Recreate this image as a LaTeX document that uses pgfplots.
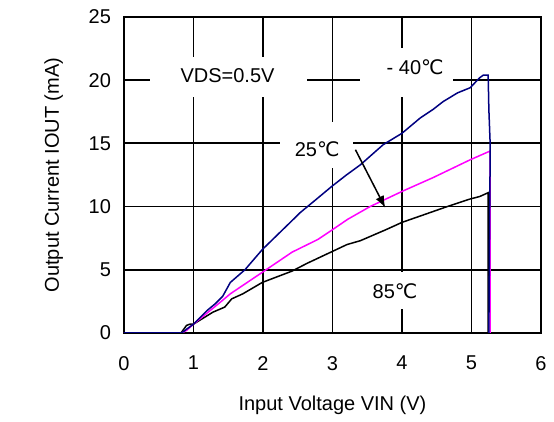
\documentclass[border=0pt]{standalone}
\usepackage{pgfplots}
\pgfplotsset{compat=1.18}
\usepackage{fontspec}
\setmainfont{Liberation Sans}
\newfontfamily\dejavu{DejaVu Sans}
\usetikzlibrary{arrows.meta}
\definecolor{navyline}{RGB}{0,0,128}
\definecolor{magline}{RGB}{255,0,255}
\newcommand{\degc}{{\dejavu ℃}}

\begin{document}
\begin{tikzpicture}
\begin{axis}[
    scale only axis,
    width=208.5pt, height=158pt,
    xmin=0, xmax=6, ymin=0, ymax=25,
    xtick={0,1,2,3,4,5,6},
    ytick={0,5,10,15,20,25},
    grid=major,
    major grid style={black, line width=0.9pt},
    axis line style={black, line width=0.9pt},
    major tick length=0pt,
    tick label style={font=\fontsize{10}{12}\selectfont},
    /pgf/number format/assume math mode=true,
    xticklabel style={yshift=-8pt},
    yticklabel style={xshift=-3pt},
    xlabel={Input Voltage VIN (V)},
    ylabel={Output Current IOUT (mA)},
    label style={font=\fontsize{10}{12}\selectfont},
    xlabel style={yshift=-6pt},
    ylabel style={yshift=6pt},
  ]
  % white boxes behind the labels
  \node[fill=white, minimum width=78.5pt, minimum height=20pt] at (axis cs:1.50,20.27) {};
  \node[fill=white, minimum width=46.5pt, minimum height=24.5pt] at (axis cs:4.065,20.6) {};
  \node[fill=white, minimum width=36.5pt, minimum height=23pt] at (axis cs:2.77,14.9) {};
  \node[fill=white, minimum width=35pt, minimum height=18.5pt] at (axis cs:3.90,3.35) {};

  % 85 C
  \addplot[black, line width=0.75pt] coordinates {
    (0,0) (0.82,0) (0.86,0.3) (0.9,0.6) (0.95,0.7) (1.0,0.7) (1.28,1.65)
    (1.45,2.05) (1.55,2.7) (1.71,3.1) (1.99,4.0) (2.42,4.9) (2.63,5.5)
    (3.21,7.0) (3.40,7.3) (3.78,8.2) (4.0,8.75) (4.65,10.0) (4.98,10.6)
    (5.12,10.8) (5.24,11.1) (5.24,0)
  };
  % 25 C
  \addplot[magline, line width=0.75pt] coordinates {
    (0,0) (0.83,0) (0.9,0.2) (1.0,0.7) (1.2,1.6) (1.4,2.5) (1.53,3.1)
    (1.99,4.8) (2.42,6.4) (2.79,7.4) (2.94,7.95) (3.22,9.0) (3.54,10.0)
    (4.0,11.2) (4.45,12.3) (4.98,13.7) (5.27,14.4) (5.27,0)
  };
  % -40 C
  \addplot[navyline, line width=0.75pt] coordinates {
    (0,0) (0.83,0) (0.9,0.3) (1.0,0.7) (1.2,1.8) (1.31,2.3) (1.42,2.9)
    (1.53,4.0) (1.74,5.0) (1.99,6.6) (2.27,8.1) (2.42,8.9) (2.53,9.5)
    (2.75,10.5) (2.99,11.6) (3.2,12.5) (3.40,13.3) (3.73,14.9) (4.0,15.8)
    (4.26,17.0) (4.45,17.7) (4.59,18.3) (4.8,19.0) (4.98,19.4) (5.12,20.2)
    (5.17,20.4) (5.24,20.4) (5.25,17.7) (5.27,14.8) (5.26,8) (5.25,0)
  };

  \node at (axis cs:1.49,20.35) {VDS=0.5V};
  \node at (axis cs:4.19,21.0) {- 40\degc};
  \node at (axis cs:2.78,14.5) {25\degc};
  \node at (axis cs:3.90,3.3) {85\degc};
  \draw[black, line width=0.75pt, -{Latex[length=6pt,width=4.5pt]}]
    (axis cs:3.33,14.5) -- (axis cs:3.76,9.9);
\end{axis}
\pgfresetboundingbox
\path (-62pt,-44.5pt) rectangle (215pt,166.5pt);
\end{tikzpicture}
\end{document}
